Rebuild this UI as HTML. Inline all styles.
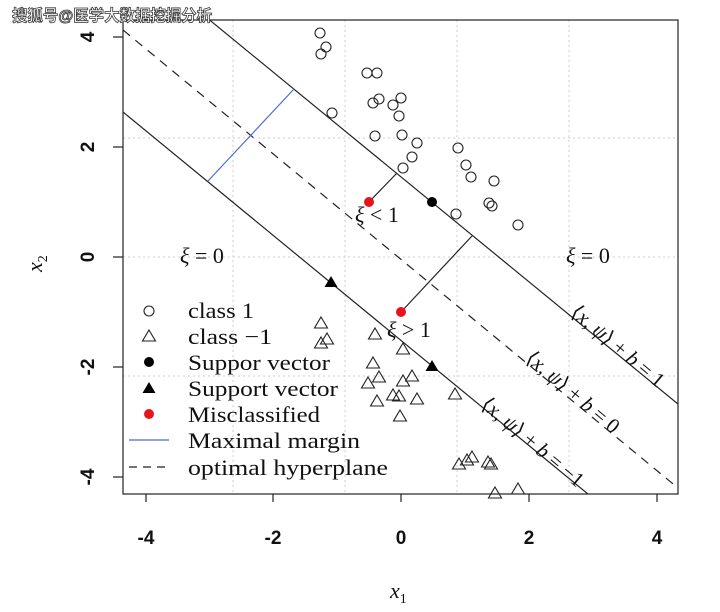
<!DOCTYPE html>
<html><head><meta charset="utf-8"><style>
body{margin:0;background:#fff;}
svg{display:block;}
.t{font-family:"Liberation Serif",serif;}
.s{font-family:"Liberation Sans",sans-serif;font-weight:bold;font-size:19px;}
</style></head><body>
<svg width="720" height="612" viewBox="0 0 720 612" xmlns="http://www.w3.org/2000/svg">
<g stroke="#ccc" stroke-dasharray="2,3" stroke-width="1">
<line x1="233" y1="20" x2="233" y2="494"/><line x1="345" y1="20" x2="345" y2="494"/>
<line x1="457" y1="20" x2="457" y2="494"/><line x1="569" y1="20" x2="569" y2="494"/>
<line x1="123" y1="138" x2="678" y2="138"/><line x1="123" y1="257" x2="678" y2="257"/><line x1="123" y1="376" x2="678" y2="376"/>
</g>
<defs><clipPath id="c"><rect x="123" y="20" width="555" height="474"/></clipPath></defs>
<g clip-path="url(#c)" stroke="#222" stroke-width="1.2" fill="none">
<line x1="123" y1="-51" x2="678" y2="404"/>
<line x1="123" y1="30" x2="678" y2="488" stroke-dasharray="9,7"/>
<line x1="123" y1="112" x2="678" y2="568"/>
<line x1="208" y1="181" x2="294" y2="89" stroke="#4a6fd0"/>
<line x1="369" y1="202" x2="397" y2="173"/>
<line x1="401" y1="312" x2="472" y2="236"/>
</g>
<g fill="none" stroke="#222" stroke-width="1.1">
<circle cx="320" cy="33" r="5"/><circle cx="326" cy="47" r="5"/><circle cx="321" cy="54" r="5"/>
<circle cx="367" cy="73" r="5"/><circle cx="377" cy="73" r="5"/><circle cx="373" cy="103" r="5"/>
<circle cx="379" cy="99" r="5"/><circle cx="393" cy="105" r="5"/><circle cx="401" cy="98" r="5"/>
<circle cx="399" cy="116" r="5"/><circle cx="332" cy="113" r="5"/><circle cx="375" cy="136" r="5"/>
<circle cx="402" cy="135" r="5"/><circle cx="417" cy="143" r="5"/><circle cx="412" cy="157" r="5"/>
<circle cx="403" cy="168" r="5"/><circle cx="458" cy="148" r="5"/><circle cx="466" cy="165" r="5"/>
<circle cx="471" cy="177" r="5"/><circle cx="494" cy="181" r="5"/><circle cx="489" cy="203" r="5"/>
<circle cx="492" cy="206" r="5"/><circle cx="456" cy="214" r="5"/><circle cx="518" cy="225" r="5"/>
<circle cx="149" cy="311" r="5"/>
</g>
<g fill="none" stroke="#222" stroke-width="1.1">
<path d="M0,-6 L6.5,5 L-6.5,5 Z" transform="translate(321,323)"/>
<path d="M0,-6 L6.5,5 L-6.5,5 Z" transform="translate(327,339)"/>
<path d="M0,-6 L6.5,5 L-6.5,5 Z" transform="translate(321,343)"/>
<path d="M0,-6 L6.5,5 L-6.5,5 Z" transform="translate(375,334)"/>
<path d="M0,-6 L6.5,5 L-6.5,5 Z" transform="translate(403,349)"/>
<path d="M0,-6 L6.5,5 L-6.5,5 Z" transform="translate(373,363)"/>
<path d="M0,-6 L6.5,5 L-6.5,5 Z" transform="translate(379,377)"/>
<path d="M0,-6 L6.5,5 L-6.5,5 Z" transform="translate(368,383)"/>
<path d="M0,-6 L6.5,5 L-6.5,5 Z" transform="translate(403,381)"/>
<path d="M0,-6 L6.5,5 L-6.5,5 Z" transform="translate(412,376)"/>
<path d="M0,-6 L6.5,5 L-6.5,5 Z" transform="translate(393,395)"/>
<path d="M0,-6 L6.5,5 L-6.5,5 Z" transform="translate(399,396)"/>
<path d="M0,-6 L6.5,5 L-6.5,5 Z" transform="translate(417,399)"/>
<path d="M0,-6 L6.5,5 L-6.5,5 Z" transform="translate(377,401)"/>
<path d="M0,-6 L6.5,5 L-6.5,5 Z" transform="translate(400,416)"/>
<path d="M0,-6 L6.5,5 L-6.5,5 Z" transform="translate(455,394)"/>
<path d="M0,-6 L6.5,5 L-6.5,5 Z" transform="translate(459,464)"/>
<path d="M0,-6 L6.5,5 L-6.5,5 Z" transform="translate(467,460)"/>
<path d="M0,-6 L6.5,5 L-6.5,5 Z" transform="translate(472,457)"/>
<path d="M0,-6 L6.5,5 L-6.5,5 Z" transform="translate(488,462)"/>
<path d="M0,-6 L6.5,5 L-6.5,5 Z" transform="translate(491,464)"/>
<path d="M0,-6 L6.5,5 L-6.5,5 Z" transform="translate(495,493)"/>
<path d="M0,-6 L6.5,5 L-6.5,5 Z" transform="translate(518,489)"/>
<path d="M0,-6 L6.5,5 L-6.5,5 Z" transform="translate(149,336)"/>
</g>
<g fill="#000">
<circle cx="432" cy="202" r="5"/><circle cx="149" cy="362" r="5"/>
<path d="M0,-6 L6.5,5 L-6.5,5 Z" transform="translate(331,282)"/>
<path d="M0,-6 L6.5,5 L-6.5,5 Z" transform="translate(432,366)"/>
<path d="M0,-6 L6.5,5 L-6.5,5 Z" transform="translate(149,388)"/>
</g>
<g fill="#e8141c"><circle cx="369" cy="202" r="5"/><circle cx="401" cy="312" r="5"/><circle cx="149" cy="414" r="5"/></g>
<line x1="129" y1="440" x2="169" y2="440" stroke="#4a6fd0" stroke-width="1.2"/>
<line x1="129" y1="467" x2="169" y2="467" stroke="#222" stroke-width="1.2" stroke-dasharray="8,6"/>
<g class="t" font-size="22" fill="#111">
<text x="188" y="318" textLength="66" lengthAdjust="spacingAndGlyphs">class 1</text>
<text x="188" y="344" textLength="84" lengthAdjust="spacingAndGlyphs">class −1</text>
<text x="188" y="370" textLength="142" lengthAdjust="spacingAndGlyphs">Suppor vector</text>
<text x="188" y="396" textLength="150" lengthAdjust="spacingAndGlyphs">Support vector</text>
<text x="188" y="422" textLength="132" lengthAdjust="spacingAndGlyphs">Misclassified</text>
<text x="188" y="448" textLength="172" lengthAdjust="spacingAndGlyphs">Maximal margin</text>
<text x="188" y="475" textLength="200" lengthAdjust="spacingAndGlyphs">optimal hyperplane</text>
<text x="180" y="263" font-style="italic">ξ<tspan font-style="normal"> = 0</tspan></text>
<text x="566" y="263" font-style="italic">ξ<tspan font-style="normal"> = 0</tspan></text>
<text x="355" y="222" font-style="italic">ξ<tspan font-style="normal"> &lt; 1</tspan></text>
<text x="387" y="337" font-style="italic">ξ<tspan font-style="normal"> &gt; 1</tspan></text>
<text transform="translate(618,346) rotate(40)" text-anchor="middle" y="7" font-size="21">⟨<tspan font-style="italic">x</tspan>, <tspan font-style="italic">ψ</tspan>⟩ + <tspan font-style="italic">b</tspan> = 1</text>
<text transform="translate(573,392) rotate(40)" text-anchor="middle" y="7" font-size="21">⟨<tspan font-style="italic">x</tspan>, <tspan font-style="italic">ψ</tspan>⟩ + <tspan font-style="italic">b</tspan> = 0</text>
<text transform="translate(533,442) rotate(40)" text-anchor="middle" y="7" font-size="21">⟨<tspan font-style="italic">x</tspan>, <tspan font-style="italic">ψ</tspan>⟩ + <tspan font-style="italic">b</tspan> = −1</text>
<text x="390" y="598" font-style="italic">x<tspan font-size="14" dy="5" font-style="normal">1</tspan></text>
<text transform="translate(42,272) rotate(-90)" font-style="italic">x<tspan font-size="14" dy="5" font-style="normal">2</tspan></text>
</g>
<rect x="123" y="20" width="555" height="474" fill="none" stroke="#222" stroke-width="1.2"/>
<g stroke="#222" stroke-width="1.2">
<line x1="146" y1="494" x2="146" y2="502"/><line x1="273" y1="494" x2="273" y2="502"/><line x1="401" y1="494" x2="401" y2="502"/><line x1="529" y1="494" x2="529" y2="502"/><line x1="657" y1="494" x2="657" y2="502"/>
<line x1="113" y1="37" x2="123" y2="37"/><line x1="113" y1="147" x2="123" y2="147"/><line x1="113" y1="257" x2="123" y2="257"/><line x1="113" y1="367" x2="123" y2="367"/><line x1="113" y1="477" x2="123" y2="477"/>
</g>
<g class="s" fill="#111" text-anchor="middle">
<text x="146" y="544">-4</text><text x="273" y="544">-2</text><text x="401" y="544">0</text><text x="529" y="544">2</text><text x="657" y="544">4</text>
<text transform="translate(94,37) rotate(-90)">4</text>
<text transform="translate(94,147) rotate(-90)">2</text>
<text transform="translate(94,257) rotate(-90)">0</text>
<text transform="translate(94,367) rotate(-90)">-2</text>
<text transform="translate(94,477) rotate(-90)">-4</text>
</g>
<text x="12" y="21" font-family="'Liberation Sans','Noto Sans CJK SC',sans-serif" font-size="16" font-weight="bold" fill="#fff" stroke="#333" stroke-width="0.8" textLength="200" lengthAdjust="spacingAndGlyphs">搜狐号@医学大数据挖掘分析</text>
</svg>
</body></html>
